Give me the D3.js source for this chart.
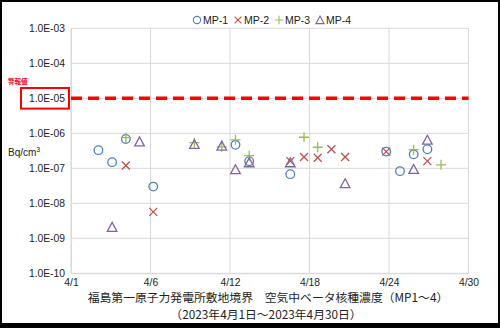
<!DOCTYPE html>
<html>
<head>
<meta charset="utf-8">
<script src="https://cdn.jsdelivr.net/npm/d3@7"></script>
<style>
  html, body { margin: 0; padding: 0; background: #fff; }
  svg { display: block; }
  text { font-family: "Liberation Sans", Arial, sans-serif; fill: #222; }
  .jp { font-family: "Noto Sans CJK JP", "Noto Sans", sans-serif; }
</style>
</head>
<body>
<svg id="chart" width="500" height="328"></svg>
<script>
// Day of April for each sample, and measured concentration (Bq/cm3)
const mp1Days   = [3, 4, 5, 7, 13, 14, 17, 24, 25, 26, 27];
const mp1Values = [3.3e-7, 1.5e-7, 6.9e-7, 3.0e-8, 4.7e-7, 1.6e-7, 6.8e-8, 3.0e-7, 8.3e-8, 2.5e-7, 3.5e-7];

const mp2Days   = [5, 7, 17, 18, 19, 20, 21, 24, 27];
const mp2Values = [1.2e-7, 5.7e-9, 1.6e-7, 2.1e-7, 2.0e-7, 3.5e-7, 2.1e-7, 3.0e-7, 1.6e-7];

const mp3Days   = [5, 10, 12, 13, 14, 18, 19, 26, 28];
const mp3Values = [7.5e-7, 5.4e-7, 4.1e-7, 6.5e-7, 2.3e-7, 7.7e-7, 4.0e-7, 3.4e-7, 1.26e-7];

const mp4Days   = [4, 6, 10, 12, 13, 14, 17, 21, 26, 27];
const mp4Values = [2.1e-9, 5.8e-7, 4.9e-7, 4.4e-7, 9.3e-8, 1.47e-7, 1.47e-7, 3.7e-8, 9.5e-8, 6.5e-7];

const seriesNames = ["MP-1", "MP-2", "MP-3", "MP-4"];
const xTickLabels = ["4/1", "4/6", "4/12", "4/18", "4/24", "4/30"];
const yTickValues = [1e-10, 1e-9, 1e-8, 1e-7, 1e-6, 1e-5, 1e-4, 1e-3];
const alarmLevel = 1e-5;
const alarmLabel = "警報値";
const unitLabel = "Bq/cm";
const titleLine1 = "福島第一原子力発電所敷地境界　空気中ベータ核種濃度（MP1～4）";
const titleLine2 = "（2023年4月1日～2023年4月30日）";

(function () {
  const svg = d3.select("#chart");
  const W = 500, H = 328;

  // outer frame
  svg.append("rect").attr("x", 0).attr("y", 0).attr("width", W).attr("height", H).attr("fill", "#000");
  svg.append("rect").attr("x", 2).attr("y", 2).attr("width", W - 4).attr("height", H - 7).attr("fill", "#fff");

  const plotLeft = 71, plotRight = 468.5, plotTop = 28.3, plotBottom = 273.3;
  const x = d3.scaleLinear().domain([1, 30]).range([plotLeft, plotRight]);
  const y = d3.scaleLog().domain([1e-10, 1e-3]).range([plotBottom, plotTop]);

  const xTickValues = d3.range(xTickLabels.length).map(i => 1 + i * (29 / (xTickLabels.length - 1)));

  // gridlines
  const grid = svg.append("g");
  grid.selectAll("line.h").data(yTickValues).join("line").attr("class", "h")
    .attr("x1", plotLeft).attr("x2", plotRight)
    .attr("y1", d => y(d)).attr("y2", d => y(d))
    .attr("stroke", "#d9d9d9").attr("stroke-width", 1);
  grid.selectAll("line.v").data(xTickValues).join("line").attr("class", "v")
    .attr("y1", plotTop).attr("y2", plotBottom)
    .attr("x1", d => x(d)).attr("x2", d => x(d))
    .attr("stroke", "#d9d9d9").attr("stroke-width", 1);

  // y axis labels
  const yFmt = d => "1.0E-" + String(Math.round(-Math.log10(d))).padStart(2, "0");
  const yAxis = d3.axisLeft(y).tickValues(yTickValues).tickFormat(yFmt).tickSize(0).tickPadding(6);
  const gy = svg.append("g").attr("transform", `translate(${plotLeft},0)`).call(yAxis);
  gy.select(".domain").attr("stroke", "#d9d9d9");
  gy.selectAll("text").attr("font-size", "10.3px").attr("fill", "#222")
    .style("font-family", '"Liberation Sans", Arial, sans-serif');

  // x axis labels
  const xAxis = d3.axisBottom(x).tickValues(xTickValues).tickFormat((d, i) => xTickLabels[i]).tickSize(0).tickPadding(5.5);
  const gx = svg.append("g").attr("transform", `translate(0,${plotBottom})`).call(xAxis);
  gx.select(".domain").attr("stroke", "#d9d9d9");
  gx.selectAll("text").attr("font-size", "10.3px").attr("fill", "#222")
    .style("font-family", '"Liberation Sans", Arial, sans-serif');

  // alarm threshold line
  svg.append("line")
    .attr("x1", plotLeft).attr("x2", plotRight)
    .attr("y1", y(alarmLevel)).attr("y2", y(alarmLevel))
    .attr("stroke", "#ff0000").attr("stroke-width", 3.5)
    .attr("stroke-dasharray", "11,6");

  // box around alarm tick label
  svg.append("rect")
    .attr("x", 21).attr("y", y(alarmLevel) - 10.3)
    .attr("width", 48).attr("height", 20.6)
    .attr("fill", "none").attr("stroke", "#ff0000").attr("stroke-width", 2);
  svg.append("text").attr("class", "jp")
    .attr("x", 8).attr("y", y(alarmLevel) - 14)
    .attr("font-size", "6.5px").attr("font-weight", "bold")
    .style("fill", "#ff0000").text(alarmLabel);

  // unit label
  const unit = svg.append("text").attr("x", 8).attr("y", 156).attr("font-size", "10px");
  unit.append("tspan").text(unitLabel);
  unit.append("tspan").attr("dy", -4).attr("font-size", "7px").text("3");

  // marker shapes
  const colors = ["#4f81bd", "#c0504d", "#9bbb59", "#8064a2"];
  function drawMarker(g, kind, color) {
    if (kind === 0) {
      g.append("circle").attr("r", 4.3).attr("fill", "none").attr("stroke", color).attr("stroke-width", 1.3);
    } else if (kind === 1) {
      g.append("path").attr("d", "M-4,-4L4,4M-4,4L4,-4").attr("stroke", color).attr("stroke-width", 1.3).attr("fill", "none");
    } else if (kind === 2) {
      g.append("path").attr("d", "M-5,0L5,0M0,-5L0,5").attr("stroke", color).attr("stroke-width", 1.3).attr("fill", "none");
    } else {
      g.append("path").attr("d", "M0,-4.6L4.8,4.3L-4.8,4.3Z").attr("stroke", color).attr("stroke-width", 1.3).attr("fill", "none");
    }
  }

  const series = [
    { days: mp1Days, values: mp1Values },
    { days: mp2Days, values: mp2Values },
    { days: mp3Days, values: mp3Values },
    { days: mp4Days, values: mp4Values }
  ];

  series.forEach((s, k) => {
    const g = svg.append("g");
    s.days.forEach((d, i) => {
      const m = g.append("g").attr("transform", `translate(${x(d)},${y(s.values[i])})`);
      drawMarker(m, k, colors[k]);
    });
  });

  // legend
  const legendX = [197, 238, 279, 320];
  seriesNames.forEach((name, k) => {
    const m = svg.append("g").attr("transform", `translate(${legendX[k]},20) scale(0.85)`);
    drawMarker(m, k, colors[k]);
    svg.append("text").attr("x", legendX[k] + 6).attr("y", 23.7)
      .attr("font-size", "10.5px").text(name);
  });

  // title
  svg.append("text").attr("class", "jp").attr("x", 268).attr("y", 302.3)
    .attr("text-anchor", "middle").attr("font-size", "11.8px").text(titleLine1);
  svg.append("text").attr("class", "jp").attr("x", 266).attr("y", 318.5)
    .attr("text-anchor", "middle").attr("font-size", "11.8px").text(titleLine2);
})();
</script>
</body>
</html>
